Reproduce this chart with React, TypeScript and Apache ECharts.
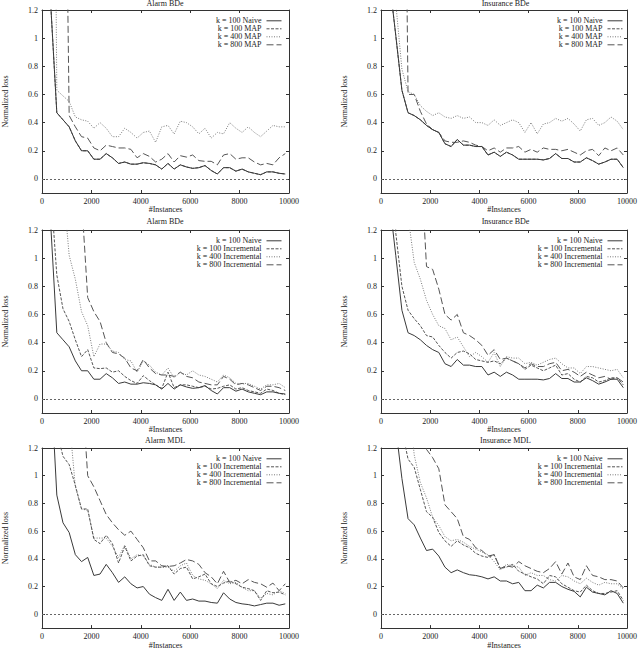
import React, { useEffect, useRef } from "react";
import * as echarts from "echarts";

// Training-set sizes at which every curve was sampled.
const instances = [
  100, 350, 600, 850, 1100, 1350, 1600, 1850, 2100, 2350,
  2600, 2850, 3100, 3350, 3600, 3850, 4100, 4350, 4600, 4850,
  5100, 5350, 5600, 5850, 6100, 6350, 6600, 6850, 7100, 7350,
  7600, 7850, 8100, 8350, 8600, 8850, 9100, 9350, 9600, 9850,
];

const yTickValues = [0, 0.2, 0.4, 0.6, 0.8, 1, 1.2];

// ---- Alarm, BDe score ----
const alarmBdeNaive = [
  4.0, 1.25, 0.47, 0.42, 0.37, 0.27, 0.2, 0.2, 0.14, 0.14,
  0.18, 0.15, 0.11, 0.12, 0.105, 0.105, 0.115, 0.11, 0.1, 0.07,
  0.11, 0.07, 0.1, 0.085, 0.075, 0.08, 0.095, 0.06, 0.035, 0.08,
  0.08, 0.055, 0.07, 0.05, 0.04, 0.03, 0.05, 0.05, 0.04, 0.035,
];
// k = 100 MAP runs on top of the naive curve
const alarmBdeMap100 = alarmBdeNaive;
const alarmBdeMap400 = [
  null, 6, 0.63, 0.59, 0.55, 0.44, 0.42, 0.41, 0.36, 0.4,
  0.36, 0.3, 0.3, 0.36, 0.33, 0.29, 0.33, 0.34, 0.26, 0.37,
  0.38, 0.32, 0.41, 0.4, 0.37, 0.32, 0.36, 0.29, 0.33, 0.32,
  0.4, 0.36, 0.33, 0.37, 0.33, 0.3, 0.34, 0.38, 0.37, 0.37,
];
const alarmBdeMap800 = [
  null, null, null, 4, 0.45, 0.37, 0.3, 0.29, 0.22, 0.2,
  0.24, 0.23, 0.22, 0.22, 0.21, 0.15, 0.18, 0.16, 0.12, 0.14,
  0.18, 0.12, 0.165, 0.155, 0.17, 0.13, 0.125, 0.125, 0.1, 0.17,
  0.18, 0.14, 0.15, 0.15, 0.12, 0.1, 0.11, 0.1, 0.15, 0.18,
];
const alarmBdeInc100 = [
  5, 1.5, 0.88, 0.64, 0.55, 0.42, 0.3, 0.35, 0.22, 0.215,
  0.22, 0.19, 0.2, 0.16, 0.13, 0.11, 0.165, 0.13, 0.1, 0.075,
  0.19, 0.08, 0.1, 0.1, 0.09, 0.08, 0.09, 0.07, 0.075, 0.09,
  0.1, 0.07, 0.08, 0.06, 0.05, 0.04, 0.07, 0.06, 0.04, 0.03,
];
const alarmBdeInc400 = [
  null, null, 4, 1.52, 1.02, 0.85, 0.62, 0.52, 0.3, 0.39,
  0.39, 0.34, 0.33, 0.28, 0.27, 0.19, 0.27, 0.24, 0.19, 0.17,
  0.22, 0.15, 0.19, 0.17, 0.2, 0.17, 0.16, 0.14, 0.12, 0.17,
  0.15, 0.11, 0.11, 0.11, 0.09, 0.07, 0.1, 0.1, 0.11, 0.08,
];
const alarmBdeInc800 = [
  null, null, null, null, null, 4, 1.43, 0.72, 0.62, 0.55,
  0.4, 0.33, 0.32, 0.29, 0.22, 0.2, 0.28, 0.22, 0.18, 0.17,
  0.17, 0.16, 0.19, 0.16, 0.15, 0.12, 0.11, 0.1, 0.1, 0.16,
  0.14, 0.1, 0.11, 0.1, 0.08, 0.06, 0.09, 0.09, 0.08, 0.06,
];

// ---- Insurance, BDe score ----
const insBdeNaive = [
  5, 1.4, 1.02, 0.63, 0.47, 0.45, 0.42, 0.38, 0.35, 0.33,
  0.25, 0.23, 0.28, 0.24, 0.24, 0.23, 0.23, 0.17, 0.19, 0.16,
  0.19, 0.17, 0.14, 0.14, 0.14, 0.14, 0.135, 0.145, 0.18, 0.145,
  0.145, 0.12, 0.12, 0.15, 0.13, 0.105, 0.12, 0.14, 0.14, 0.08,
];
const insBdeMap100 = insBdeNaive;
const insBdeMap400 = [
  null, 4, 1.25, 0.78, 0.62, 0.6, 0.52, 0.48, 0.45, 0.47,
  0.44, 0.43, 0.45, 0.43, 0.44, 0.4, 0.4, 0.38, 0.42, 0.38,
  0.4, 0.42, 0.4, 0.33, 0.4, 0.32, 0.39, 0.4, 0.43, 0.41,
  0.43, 0.39, 0.34, 0.42, 0.43, 0.38, 0.4, 0.44, 0.41, 0.35,
];
const insBdeMap800 = [
  null, null, null, 4.5, 0.6, 0.6, 0.48, 0.39, 0.35, 0.33,
  0.27, 0.26, 0.26, 0.27, 0.26, 0.24, 0.23, 0.2, 0.22, 0.19,
  0.22, 0.22, 0.23, 0.19, 0.21, 0.19, 0.22, 0.21, 0.21, 0.2,
  0.21, 0.19, 0.17, 0.2, 0.21, 0.165, 0.22, 0.2, 0.22, 0.17,
];
const insBdeInc100 = [
  null, 3, 1.18, 0.8, 0.63, 0.57, 0.52, 0.45, 0.44, 0.38,
  0.33, 0.29, 0.33, 0.34, 0.32, 0.28, 0.27, 0.26, 0.27, 0.25,
  0.29, 0.27, 0.25, 0.21, 0.24, 0.22, 0.2, 0.22, 0.24, 0.17,
  0.18, 0.14, 0.12, 0.16, 0.15, 0.12, 0.13, 0.15, 0.15, 0.1,
];
const insBdeInc400 = [
  null, null, null, 2.0, 1.3, 0.97, 0.85, 0.7, 0.6, 0.52,
  0.5, 0.42, 0.44, 0.37, 0.3, 0.33, 0.3, 0.26, 0.33, 0.23,
  0.3, 0.29, 0.29, 0.25, 0.26, 0.24, 0.26, 0.28, 0.29, 0.25,
  0.22, 0.22, 0.18, 0.23, 0.23, 0.22, 0.21, 0.2, 0.21, 0.15,
];
const insBdeInc800 = [
  null, null, null, null, null, null, 1.75, 0.94, 0.92, 0.78,
  0.6, 0.56, 0.6, 0.47, 0.45, 0.42, 0.38, 0.31, 0.35, 0.28,
  0.29, 0.27, 0.25, 0.22, 0.25, 0.23, 0.23, 0.25, 0.26, 0.2,
  0.21, 0.19, 0.16, 0.19, 0.17, 0.15, 0.16, 0.14, 0.15, 0.12,
];

// ---- Alarm, MDL score ----
const alarmMdlNaive = [
  5, 1.71, 0.86, 0.66, 0.59, 0.43, 0.38, 0.41, 0.28, 0.29,
  0.36, 0.3, 0.23, 0.27, 0.22, 0.19, 0.2, 0.145, 0.12, 0.1,
  0.18, 0.1, 0.16, 0.1, 0.11, 0.095, 0.095, 0.085, 0.08, 0.155,
  0.11, 0.085, 0.075, 0.07, 0.06, 0.07, 0.08, 0.08, 0.065, 0.075,
];
const alarmMdlInc100 = [
  null, 5, 1.32, 1.14, 1.08, 0.93, 0.76, 0.76, 0.54, 0.51,
  0.57, 0.51, 0.37, 0.49, 0.385, 0.42, 0.43, 0.35, 0.34, 0.34,
  0.35, 0.29, 0.33, 0.34, 0.255, 0.27, 0.29, 0.22, 0.2, 0.225,
  0.24, 0.22, 0.195, 0.185, 0.17, 0.1, 0.17, 0.155, 0.16, 0.14,
];
const alarmMdlInc400 = [
  null, null, null, 4, 1.42, 0.92, 0.76, 0.75, 0.55, 0.55,
  0.55, 0.49, 0.41, 0.5, 0.4, 0.43, 0.42, 0.36, 0.34, 0.34,
  0.34, 0.31, 0.35, 0.37, 0.28, 0.255, 0.245, 0.22, 0.185, 0.245,
  0.22, 0.23, 0.195, 0.17, 0.17, 0.115, 0.15, 0.14, 0.17, 0.15,
];
const alarmMdlInc800 = [
  null, null, null, null, null, null, 1.68, 1.0, 0.92, 0.82,
  0.72, 0.66, 0.61, 0.57, 0.6, 0.54, 0.48, 0.385, 0.385, 0.35,
  0.345, 0.35, 0.37, 0.395, 0.385, 0.36, 0.3, 0.27, 0.22, 0.31,
  0.23, 0.245, 0.22, 0.25, 0.23, 0.22, 0.195, 0.225, 0.17, 0.22,
];

// ---- Insurance, MDL score ----
const insMdlNaive = [
  5, 3, 1.35, 0.98, 0.69, 0.645, 0.55, 0.46, 0.47, 0.42,
  0.34, 0.3, 0.32, 0.3, 0.285, 0.28, 0.27, 0.255, 0.27, 0.24,
  0.24, 0.22, 0.23, 0.17, 0.17, 0.21, 0.19, 0.23, 0.23, 0.2,
  0.18, 0.165, 0.125, 0.195, 0.16, 0.15, 0.14, 0.17, 0.15, 0.08,
];
const insMdlInc100 = [
  null, null, 4, 1.33, 1.12, 1.06, 0.9, 0.74, 0.7, 0.59,
  0.53, 0.49, 0.53, 0.5, 0.48, 0.44, 0.42, 0.41, 0.43, 0.33,
  0.34, 0.36, 0.31, 0.29, 0.27, 0.255, 0.22, 0.28, 0.27, 0.22,
  0.195, 0.17, 0.16, 0.21, 0.17, 0.15, 0.15, 0.16, 0.17, 0.1,
];
const insMdlInc400 = [
  null, null, null, null, 1.6, 1.15, 0.95, 0.84, 0.7, 0.64,
  0.56, 0.53, 0.54, 0.52, 0.49, 0.47, 0.45, 0.43, 0.38, 0.32,
  0.36, 0.35, 0.34, 0.28, 0.3, 0.28, 0.28, 0.25, 0.24, 0.28,
  0.27, 0.24, 0.22, 0.26, 0.23, 0.21, 0.23, 0.22, 0.22, 0.18,
];
const insMdlInc800 = [
  null, null, null, null, null, null, 1.7, 1.19, 1.13, 1.05,
  0.79, 0.74, 0.69, 0.56, 0.54, 0.48, 0.46, 0.42, 0.43, 0.33,
  0.35, 0.34, 0.38, 0.35, 0.33, 0.31, 0.3, 0.33, 0.38, 0.29,
  0.37, 0.27, 0.25, 0.35, 0.28, 0.27, 0.25, 0.25, 0.24, 0.19,
];

const FONT = "'Liberation Serif', 'DejaVu Serif', serif";
const TEXT = "#222";
const FRAME = "#333";

type Kind = "naive" | "k100" | "k400" | "k800";
type Curve = { name: string; values: (number | null)[]; kind: Kind };
type Panel = {
  title: string;
  left: number;
  top: number;
  width: number;
  height: number;
  titleY: number;
  curves: Curve[];
};

const lineLook: Record<Kind, { color: string; type: any }> = {
  naive: { color: "#3a3a3a", type: "solid" },
  k100: { color: "#555", type: [3, 1.5] },
  k400: { color: "#7a7a7a", type: [1, 1.5] },
  k800: { color: "#555", type: [7, 3] },
};

const LEFT_X = 41;
const RIGHT_X = 381;
const W_LEFT = 248;
const W_RIGHT = 249;
const H = 183;

const panels: Panel[] = [
  {
    title: "Alarm BDe", left: LEFT_X, top: 10, width: W_LEFT, height: H, titleY: 3,
    curves: [
      { name: "k = 100 Naive", values: alarmBdeNaive, kind: "naive" },
      { name: "k = 100 MAP", values: alarmBdeMap100, kind: "k100" },
      { name: "k = 400 MAP", values: alarmBdeMap400, kind: "k400" },
      { name: "k = 800 MAP", values: alarmBdeMap800, kind: "k800" },
    ],
  },
  {
    title: "Insurance BDe", left: RIGHT_X, top: 10, width: W_RIGHT, height: H, titleY: 3,
    curves: [
      { name: "k = 100 Naive", values: insBdeNaive, kind: "naive" },
      { name: "k = 100 MAP", values: insBdeMap100, kind: "k100" },
      { name: "k = 400 MAP", values: insBdeMap400, kind: "k400" },
      { name: "k = 800 MAP", values: insBdeMap800, kind: "k800" },
    ],
  },
  {
    title: "Alarm BDe", left: LEFT_X, top: 230, width: W_LEFT, height: H, titleY: 221,
    curves: [
      { name: "k = 100 Naive", values: alarmBdeNaive, kind: "naive" },
      { name: "k = 100 Incremental", values: alarmBdeInc100, kind: "k100" },
      { name: "k = 400 Incremental", values: alarmBdeInc400, kind: "k400" },
      { name: "k = 800 Incremental", values: alarmBdeInc800, kind: "k800" },
    ],
  },
  {
    title: "Insurance BDe", left: RIGHT_X, top: 230, width: W_RIGHT, height: H, titleY: 221,
    curves: [
      { name: "k = 100 Naive", values: insBdeNaive, kind: "naive" },
      { name: "k = 100 Incremental", values: insBdeInc100, kind: "k100" },
      { name: "k = 400 Incremental", values: insBdeInc400, kind: "k400" },
      { name: "k = 800 Incremental", values: insBdeInc800, kind: "k800" },
    ],
  },
  {
    title: "Alarm MDL", left: LEFT_X, top: 448, width: W_LEFT, height: H, titleY: 440.5,
    curves: [
      { name: "k = 100 Naive", values: alarmMdlNaive, kind: "naive" },
      { name: "k = 100 Incremental", values: alarmMdlInc100, kind: "k100" },
      { name: "k = 400 Incremental", values: alarmMdlInc400, kind: "k400" },
      { name: "k = 800 Incremental", values: alarmMdlInc800, kind: "k800" },
    ],
  },
  {
    title: "Insurance MDL", left: RIGHT_X, top: 448, width: W_RIGHT, height: H, titleY: 440.5,
    curves: [
      { name: "k = 100 Naive", values: insMdlNaive, kind: "naive" },
      { name: "k = 100 Incremental", values: insMdlInc100, kind: "k100" },
      { name: "k = 400 Incremental", values: insMdlInc400, kind: "k400" },
      { name: "k = 800 Incremental", values: insMdlInc800, kind: "k800" },
    ],
  },
];

function buildOption() {
  const grid: any[] = [];
  const xAxis: any[] = [];
  const yAxis: any[] = [];
  const series: any[] = [];
  const legend: any[] = [];
  const graphic: any[] = [];

  const label = { fontFamily: FONT, fontSize: 8, color: TEXT };
  const frameLine = { show: true, onZero: false, lineStyle: { color: FRAME, width: 1 } };
  const tick = { show: true, inside: true, length: 3, lineStyle: { color: FRAME, width: 1 } };

  panels.forEach((p, g) => {
    grid.push({ left: p.left, top: p.top, width: p.width, height: p.height, show: false });

    xAxis.push({
      type: "value", gridIndex: g, position: "bottom",
      min: 0, max: 10000, interval: 2000,
      axisLine: frameLine, axisTick: tick,
      axisLabel: { ...label, margin: 4, formatter: (v: number) => String(v) },
      splitLine: { show: false },
      name: "#Instances", nameLocation: "middle", nameGap: 12,
      nameTextStyle: { ...label },
    });
    xAxis.push({
      type: "value", gridIndex: g, position: "top",
      min: 0, max: 10000, interval: 2000,
      axisLine: frameLine, axisTick: tick,
      axisLabel: { show: false }, splitLine: { show: false },
    });

    yAxis.push({
      type: "value", gridIndex: g, position: "left",
      min: -0.1, max: 1.2,
      axisLine: frameLine,
      axisTick: { ...tick, customValues: yTickValues },
      axisLabel: { ...label, margin: 4, customValues: yTickValues },
      splitLine: { show: false },
      name: "Normalized loss", nameLocation: "middle", nameGap: 33, nameRotate: 90,
      nameTextStyle: { ...label },
    });
    yAxis.push({
      type: "value", gridIndex: g, position: "right",
      min: -0.1, max: 1.2,
      axisLine: frameLine,
      axisTick: { ...tick, customValues: yTickValues },
      axisLabel: { show: false }, splitLine: { show: false },
    });

    p.curves.forEach((c, ci) => {
      const look = lineLook[c.kind];
      const s: any = {
        type: "line", name: c.name,
        xAxisIndex: 2 * g, yAxisIndex: 2 * g,
        data: instances.map((x, i) => [x, c.values[i]]),
        symbol: "none", clip: true, silent: true,
        lineStyle: { color: look.color, width: 1, type: look.type },
        itemStyle: { color: look.color },
        z: 3 - ci,
      };
      if (ci === 0) {
        // dotted zero axis across the plot
        s.markLine = {
          silent: true, symbol: ["none", "none"], label: { show: false },
          lineStyle: { color: "#666", width: 1, type: [2, 2] },
          data: [{ yAxis: 0 }],
        };
      }
      series.push(s);
    });

    legend.push({
      orient: "vertical", align: "right",
      right: 640 - (p.left + p.width - 7), top: p.top + 6.8,
      itemWidth: 15, itemHeight: 7.3, itemGap: 0, padding: 0,
      selectedMode: false,
      data: p.curves.map((c) => c.name),
      textStyle: { ...label, lineHeight: 7.3 },
      itemStyle: { opacity: 0 },
      lineStyle: { width: 1 },
    });

    graphic.push({
      type: "text",
      x: p.left + p.width / 2, y: p.titleY,
      style: {
        text: p.title, fontFamily: FONT, fontSize: 8, fill: TEXT,
        align: "center", verticalAlign: "middle",
      },
    });
  });

  return {
    animation: false,
    backgroundColor: "#fff",
    grid, xAxis, yAxis, series, legend, graphic,
  };
}

export default function App() {
  const ref = useRef<HTMLDivElement>(null);
  useEffect(() => {
    if (!ref.current) return;
    const chart = echarts.init(ref.current, undefined, { renderer: "svg" });
    chart.setOption(buildOption() as any);
    return () => chart.dispose();
  }, []);
  return (
    <div
      ref={ref}
      style={{ position: "absolute", left: 0, top: 0, width: 640, height: 650 }}
    />
  );
}
